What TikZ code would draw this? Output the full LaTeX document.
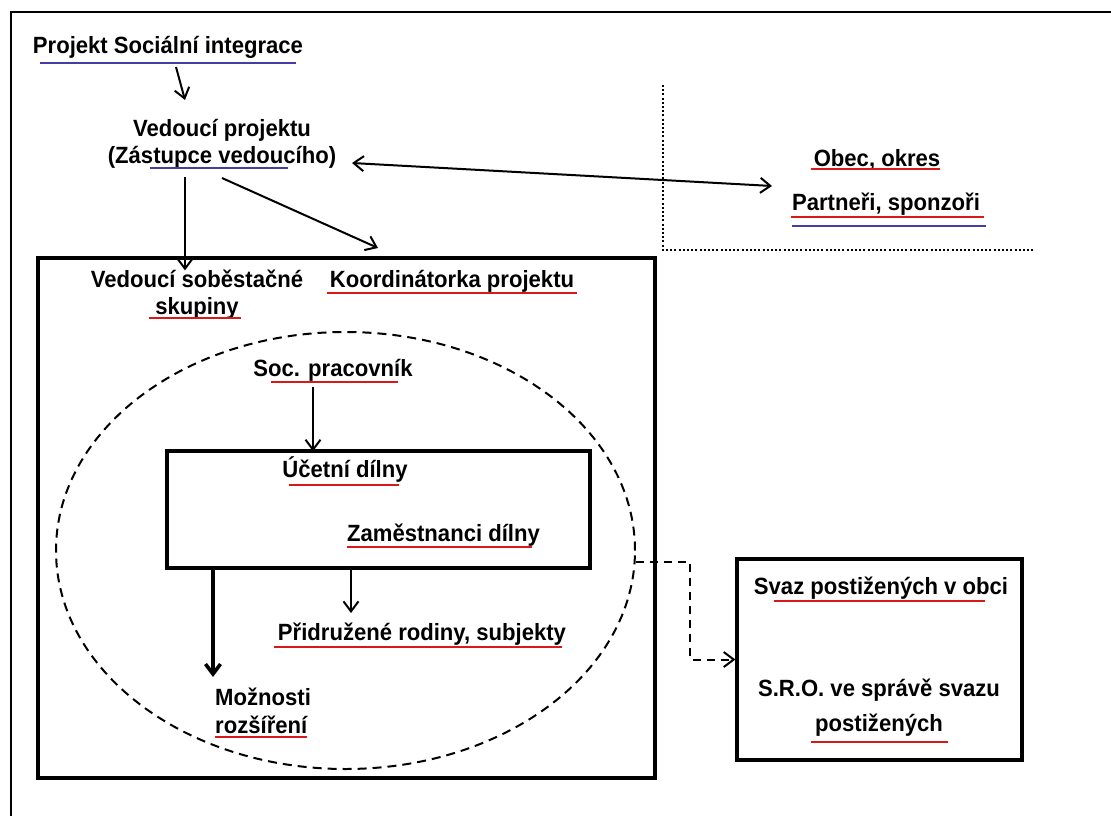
\documentclass[tikz,border=0pt]{standalone}
\usepackage{fontspec}
\setmainfont{Liberation Sans}[FakeStretch=0.94]
\usetikzlibrary{arrows.meta,shapes.geometric}
\definecolor{ured}{RGB}{215,25,25}
\definecolor{ublue}{RGB}{70,60,165}
\begin{document}
\begin{tikzpicture}[x=1pt,y=-1pt,
  font=\fontsize{23.5}{27}\selectfont\bfseries,
  >={Straight Barb[length=10pt,width=15pt]},
  lbl/.style={inner sep=0pt,anchor=base},
  arr/.style={->,line width=2pt},
  thickarr/.style={->,line width=3.6pt},
  dasharr/.style={->,line width=2pt,dash pattern=on 8pt off 6pt},
  redul/.style={draw=ured,line width=2.8pt},
  blueul/.style={draw=ublue,line width=2.8pt},
  boxstyle/.style={draw,line width=3.2pt,inner sep=0pt},
  dotline/.style={line width=2pt,dash pattern=on 2pt off 2.2pt},
  frame/.style={line width=2pt}]
\useasboundingbox (0,0) rectangle (1111,816);
% outer frame (top and left edges)
\draw[frame] (10,12) -- (1111,12);
\draw[frame] (11,12) -- (11,816);
% top labels
\node[lbl] (proj) at (168,54) {Projekt Sociální integrace};
\draw[blueul] (40,63) -- (296,63);
\node[lbl,align=center] (ved) at (222,163) {Vedoucí projektu\\(Zástupce vedoucího)};
\draw[blueul] (150,168) -- (288,168);
% partners
\draw[dotline] (663,85) -- (663,250) -- (1033,250);
\node[lbl] (obec) at (877,166) {Obec, okres};
\draw[redul] (811,169) -- (940,169);
\node[lbl] (partn) at (886,210) {Partneři, sponzoři};
\draw[redul] (791,217) -- (984,217);
\draw[blueul] (792,226) -- (986,226);
% big box
\node[boxstyle,minimum width=617pt,minimum height=520pt] (big) at (346.5,518) {};
\node[lbl,align=center] (vss) at (197,314) {Vedoucí soběstačné\\skupiny};
\draw[redul] (149,318) -- (241,318);
\node[lbl] (koord) at (452,287) {Koordinátorka projektu};
\draw[redul] (327,293) -- (577,293);
% ellipse
\node[draw,dash pattern=on 9pt off 6pt,line width=2pt,ellipse,inner sep=0pt,
  minimum width=579pt,minimum height=437pt] (ell) at (345.5,550.5) {};
\node[lbl] (soc) at (333,376) {Soc. pracovník};
\draw[redul] (271,382) -- (398,382);
% inner box
\node[boxstyle,minimum width=423pt,minimum height=117pt] (inner) at (378.5,509.5) {};
\node[lbl] (ucet) at (345,477) {Účetní dílny};
\draw[redul] (289,485) -- (399,485);
\node[lbl] (zam) at (443.5,541) {Zaměstnanci dílny};
\draw[redul] (347,547) -- (532,547);
\node[lbl] (prid) at (422,640) {Přidružené rodiny, subjekty};
\draw[redul] (274,647) -- (562,647);
\node[lbl,anchor=base west,align=left] (mozn) at (215,733) {Možnosti\\[1pt]rozšíření};
\draw[redul] (215,737) -- (307,737);
% right box
\node[boxstyle,minimum width=285pt,minimum height=201pt] (rbox) at (879.5,659.5) {};
\node[lbl] (svaz) at (881,594) {Svaz postižených v obci};
\draw[redul] (774,601) -- (985,601);
\node[lbl,align=center] (sro) at (879,731) {S.R.O. ve správě svazu\\[8pt]postižených};
\draw[redul] (811,742) -- (948,742);
% connectors
\draw[arr] ([xshift=8pt,yshift=-13pt]proj.base) -- ([xshift=-37pt,yshift=63pt]ved.base);
\draw[arr] ([xshift=-37pt,yshift=-14pt]ved.base) -- ([xshift=-37pt,yshift=-14pt]ved.base |- big.north);
\draw[arr] ([yshift=-15pt]ved.base) -- ([xshift=-74pt,yshift=39pt]koord.base);
\draw[arr,<->] ([xshift=130pt]ved.base) -- ([xshift=-114pt,yshift=24pt]partn.base);
\draw[arr,shorten >=9pt] ([xshift=-20pt,yshift=-11pt]soc.base) -- ([xshift=-20pt,yshift=-11pt]soc.base |- inner.north);
\draw[thickarr] (213,0 |- inner.south) -- (213,677);
\draw[arr] (351,0 |- inner.south) -- (351,613);
\draw[dasharr] ([yshift=-11.5pt]ell.east) -- ++(54,0) |- (rbox.west);
\end{tikzpicture}
\end{document}
